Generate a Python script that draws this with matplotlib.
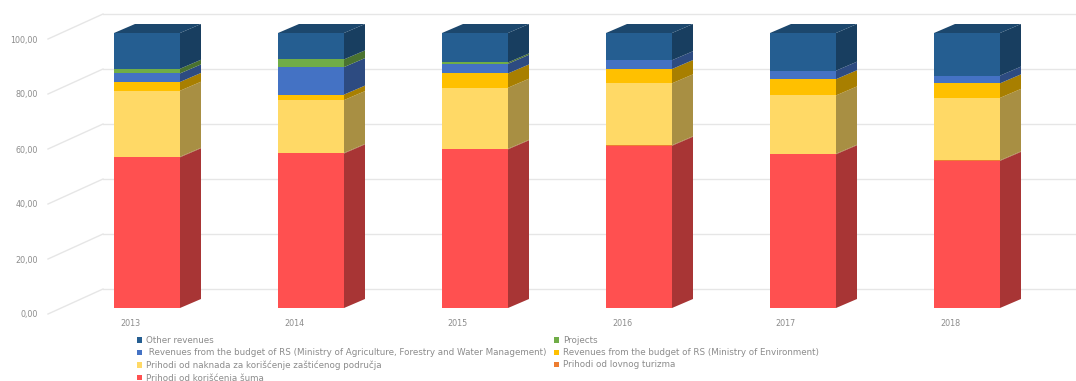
import matplotlib
matplotlib.use("Agg")
import matplotlib.pyplot as plt
from matplotlib.patches import Polygon, Patch
import numpy as np

years = ["2013", "2014", "2015", "2016", "2017", "2018"]
# series, bottom to top
sume = [54.8, 56.2, 57.7, 59.0, 55.9, 53.5]
lovni = [0.2, 0.2, 0.2, 0.2, 0.2, 0.2]
naknada = [24.0, 19.2, 22.2, 22.5, 21.2, 22.7]
environment = [3.2, 2.0, 5.2, 5.2, 5.9, 5.3]
agriculture = [3.1, 10.0, 3.5, 3.2, 3.1, 2.8]
projects = [1.7, 2.8, 0.5, 0.0, 0.0, 0.0]
other = [13.0, 9.6, 10.7, 9.9, 13.7, 15.5]
y_ticks = [0, 20, 40, 60, 80, 100]

labels = [
    "Prihodi od korišćenja šuma",
    "Prihodi od lovnog turizma",
    "Prihodi od naknada za korišćenje zaštićenog područja",
    "Revenues from the budget of RS (Ministry of Environment)",
    " Revenues from the budget of RS (Ministry of Agriculture, Forestry and Water Management)",
    "Projects",
    "Other revenues",
]
series = [sume, lovni, naknada, environment, agriculture, projects, other]
colors = ["#FF5050", "#ED7D31", "#FFD966", "#FFC000", "#4472C4", "#70AD47", "#255E91"]

W, H = 1076, 381
fig = plt.figure(figsize=(W / 100, H / 100), dpi=100)
ax = fig.add_axes([0, 0, 1, 1])

# pixel geometry of the front plane
px_per_unit_y = 2.75
zero_px = 308.0
x0_px, step_px = 147.0, 164.0
ax.set_ylim((zero_px - H) / px_per_unit_y, zero_px / px_per_unit_y)
ax.set_xlim(-x0_px / step_px, (W - x0_px) / step_px)
ax.axis("off")

def px_x(dx):
    return dx / step_px

def px_y(dy):
    return dy / px_per_unit_y

bar_w = px_x(66)
dep_x, dep_y = px_x(21), px_y(9)
wall_dy = px_y(19)

def shade(c, f):
    r, g, b = matplotlib.colors.to_rgb(c)
    return (r * f, g * f, b * f)

# back wall grid + diagonal floor lines + tick labels
grid_c = "#E6E6E6"
for v in y_ticks:
    yw = v + wall_dy
    ax.plot([px_x(103) - x0_px / step_px, (W - x0_px) / step_px], [yw, yw],
            color=grid_c, lw=1.0, zorder=1)
    ax.plot([px_x(48) - x0_px / step_px, px_x(103) - x0_px / step_px],
            [v - px_y(6), yw], color=grid_c, lw=1.0, zorder=1)
    ax.text(px_x(38) - x0_px / step_px, v - px_y(7), f"{v:.2f}".replace(".", ","),
            ha="right", va="center", fontsize=5.8, color="#8C8C8C")

x = np.arange(len(years))
bottom = np.zeros(len(years))
for vals, c, lab in zip(series, colors, labels):
    vals = np.array(vals)
    ax.bar(x, vals, width=bar_w, bottom=bottom, color=c, zorder=3, linewidth=0)
    for i in range(len(years)):
        if vals[i] <= 0:
            continue
        xr = x[i] + bar_w / 2
        y0, y1 = bottom[i], bottom[i] + vals[i]
        ax.add_patch(Polygon([(xr, y0), (xr + dep_x, y0 + dep_y),
                              (xr + dep_x, y1 + dep_y), (xr, y1)],
                             closed=True, facecolor=shade(c, 0.66), lw=0, zorder=3))
    bottom = bottom + vals

# top faces
for i in range(len(years)):
    xl, xr = x[i] - bar_w / 2, x[i] + bar_w / 2
    yt = bottom[i]
    ax.add_patch(Polygon([(xl, yt), (xl + dep_x, yt + dep_y),
                          (xr + dep_x, yt + dep_y), (xr, yt)],
                         closed=True, facecolor=shade(colors[-1], 0.75), lw=0, zorder=3))
    ax.text(x[i] - px_x(17), px_y(zero_px - 324), years[i], ha="center", va="center",
            fontsize=5.8, color="#8C8C8C")

# legend (column-major order for 2 columns)
order = [6, 4, 2, 0, 5, 3, 1]
handles = [Patch(facecolor=colors[k], edgecolor="none") for k in order]
texts = [labels[k] for k in order]
leg = fig.legend(handles, texts, ncol=2, loc="upper left",
                 bbox_to_anchor=(137 / W, 1 - 336 / H), frameon=False,
                 fontsize=6.3, handlelength=0.55, handleheight=0.55, handletextpad=0.45,
                 labelspacing=0.37, columnspacing=0.9, borderpad=0, borderaxespad=0,
                 labelcolor="#8C8C8C")

fig.savefig("out.png", dpi=100)
